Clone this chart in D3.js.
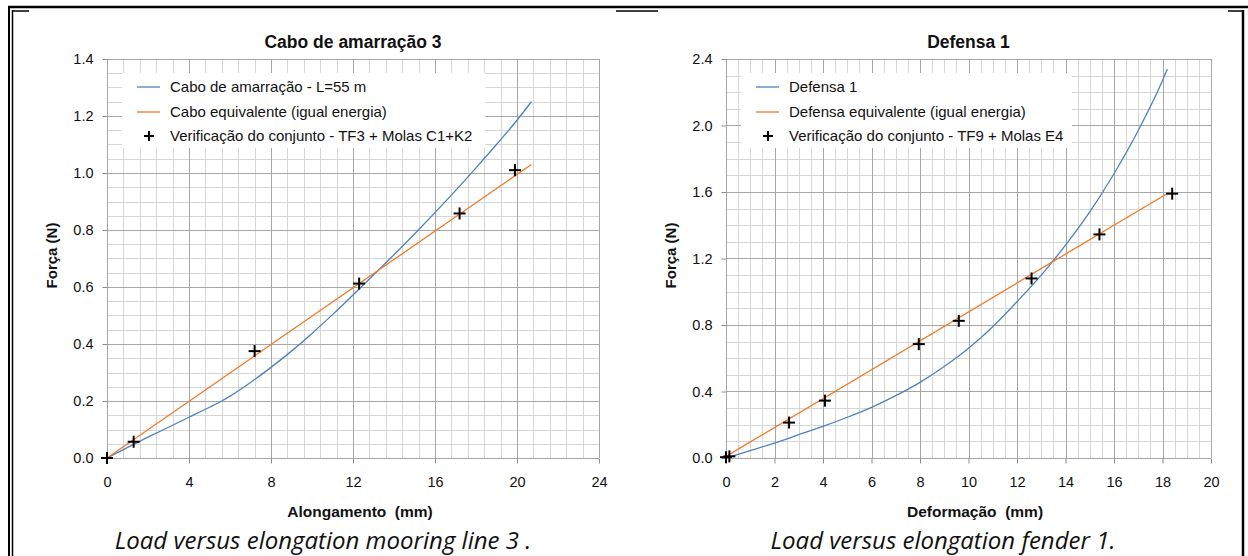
<!DOCTYPE html>
<html>
<head>
<meta charset="utf-8">
<script src="https://cdn.jsdelivr.net/npm/d3@7"></script>
<style>
  body { margin: 0; background: #fff; }
  svg { display: block; }
  text { font-family: "Liberation Sans", Arial, sans-serif; fill: #111; }
</style>
</head>
<body>
<script>
// ---- data ----
// Cabo de amarração 3
let caboX = [0, 1.3, 2, 3, 4, 5, 5.6, 6, 7, 8, 9, 10, 11, 12, 13, 14, 15, 16, 17, 18, 19, 20, 20.7];
let caboY = [0, 0.048, 0.073, 0.108, 0.143, 0.178, 0.2, 0.217, 0.265, 0.318, 0.375, 0.437, 0.503, 0.572, 0.642, 0.713, 0.786, 0.861, 0.938, 1.018, 1.1, 1.185, 1.25];
let caboEqX = [0, 20.7];
let caboEqY = [0, 1.03];
let caboVerX = [0, 1.3, 7.2, 12.3, 17.2, 19.9];
let caboVerY = [0, 0.057, 0.375, 0.612, 0.858, 1.01];

// Defensa 1
let defX = [0, 1, 2, 3, 4, 5, 6, 7, 8, 9, 10, 11, 12, 13, 14, 15, 16, 17, 18, 18.2];
let defY = [0, 0.045, 0.09, 0.14, 0.19, 0.245, 0.305, 0.375, 0.455, 0.55, 0.66, 0.79, 0.94, 1.1, 1.28, 1.48, 1.71, 1.97, 2.27, 2.34];
let defEqX = [0, 18.3];
let defEqY = [0.01, 1.6];
let defVerX = [0, 0.14, 2.6, 4.08, 7.95, 9.6, 12.6, 15.4, 18.4];
let defVerY = [0.005, 0.01, 0.213, 0.345, 0.685, 0.825, 1.08, 1.345, 1.59];

let caboLegend = ["Cabo de amarração - L=55 m", "Cabo equivalente (igual energia)", "Verificação do conjunto - TF3 + Molas C1+K2"];
let defLegend = ["Defensa 1", "Defensa equivalente (igual energia)", "Verificação do conjunto - TF9 + Molas E4"];

let blue = "#4f81bd";
let orange = "#f07a25";

let svgWidth = 1248;
let svgHeight = 556;

let svg = d3.select("body")
  .append("svg")
  .attr("width", svgWidth)
  .attr("height", svgHeight);

// table borders around the two figures
let frame = svg.append("g").attr("stroke", "#000").attr("fill", "none");
frame.append("line").attr("x1", 8).attr("x2", 1248).attr("y1", 7).attr("y2", 7).attr("stroke-width", 2.5);
frame.append("line").attr("x1", 9).attr("x2", 9).attr("y1", 6).attr("y2", 556).attr("stroke-width", 2);
frame.append("line").attr("x1", 12.5).attr("x2", 12.5).attr("y1", 10).attr("y2", 556).attr("stroke-width", 1.5);
frame.append("line").attr("x1", 12).attr("x2", 29).attr("y1", 11).attr("y2", 11).attr("stroke-width", 1.5);
frame.append("line").attr("x1", 616).attr("x2", 658).attr("y1", 11).attr("y2", 11).attr("stroke-width", 1.5);
frame.append("line").attr("x1", 1228).attr("x2", 1243).attr("y1", 11).attr("y2", 11).attr("stroke-width", 1.5);
frame.append("line").attr("x1", 1243).attr("x2", 1243).attr("y1", 10).attr("y2", 556).attr("stroke-width", 2.5);

function drawChart(cfg) {
  let x = d3.scaleLinear().domain([0, cfg.xMax]).range([cfg.left, cfg.right]);
  let y = d3.scaleLinear().domain([0, cfg.yMax]).range([cfg.bottom, cfg.top]);

  let g = svg.append("g");

  // minor grid
  let grid = g.append("g").attr("shape-rendering", "crispEdges");
  grid.selectAll(".vmin")
    .data(d3.range(0, cfg.xMax + 1e-9, cfg.xMinor))
    .enter().append("line")
    .attr("x1", d => Math.round(x(d)) + 0.5).attr("x2", d => Math.round(x(d)) + 0.5)
    .attr("y1", cfg.top).attr("y2", cfg.bottom)
    .attr("stroke", "#d6d6d6");
  grid.selectAll(".hmin")
    .data(d3.range(0, cfg.yMax + 1e-9, cfg.yMinor))
    .enter().append("line")
    .attr("y1", d => Math.round(y(d)) + 0.5).attr("y2", d => Math.round(y(d)) + 0.5)
    .attr("x1", cfg.left).attr("x2", cfg.right)
    .attr("stroke", "#d6d6d6");

  // major grid
  let xMajor = d3.range(0, cfg.xMax + 1e-9, cfg.xStep);
  let yMajor = d3.range(0, cfg.yMax + 1e-9, cfg.yStep);
  grid.selectAll(".vmaj")
    .data(xMajor)
    .enter().append("line")
    .attr("x1", d => Math.round(x(d)) + 0.5).attr("x2", d => Math.round(x(d)) + 0.5)
    .attr("y1", cfg.top).attr("y2", cfg.bottom)
    .attr("stroke", "#a6a6a6");
  grid.selectAll(".hmaj")
    .data(yMajor)
    .enter().append("line")
    .attr("y1", d => Math.round(y(d)) + 0.5).attr("y2", d => Math.round(y(d)) + 0.5)
    .attr("x1", cfg.left).attr("x2", cfg.right)
    .attr("stroke", "#a6a6a6");

  // axes (ticks and labels only)
  let xAxis = d3.axisBottom(x).tickValues(xMajor).tickFormat(d3.format("d")).tickSize(5).tickPadding(13);
  let yAxis = d3.axisLeft(y).tickValues(yMajor).tickFormat(d3.format(".1f")).tickSize(5).tickPadding(9);

  let gx = g.append("g")
    .attr("transform", `translate(0, ${Math.round(y(0)) + 0.5})`)
    .call(xAxis);
  let gy = g.append("g")
    .attr("transform", `translate(${Math.round(x(0)) + 0.5}, 0)`)
    .call(yAxis);
  [gx, gy].forEach(a => {
    a.select(".domain").remove();
    a.selectAll(".tick line").attr("stroke", "#8c8c8c");
    a.selectAll(".tick text").style("font-size", "14.5px").attr("fill", "#111");
  });

  // legend box (drawn over the grid, under the lines)
  let lg = g.append("g").attr("transform", `translate(${cfg.left + 15}, ${cfg.top + 14})`);
  lg.append("rect").attr("width", cfg.legendW).attr("height", 75).attr("fill", "#fff");

  let lineGen = d3.line().x(d => x(d[0])).y(d => y(d[1]));

  // series
  g.append("path")
    .attr("d", lineGen.curve(d3.curveMonotoneX)(d3.zip(cfg.curveX, cfg.curveY)))
    .attr("fill", "none").attr("stroke", blue).attr("stroke-width", 1.3);
  g.append("path")
    .attr("d", d3.line().x(d => x(d[0])).y(d => y(d[1]))(d3.zip(cfg.eqX, cfg.eqY)))
    .attr("fill", "none").attr("stroke", orange).attr("stroke-width", 1.3);

  let marks = g.selectAll(".ver")
    .data(d3.zip(cfg.verX, cfg.verY))
    .enter().append("g")
    .attr("transform", d => `translate(${x(d[0])}, ${y(d[1])})`);
  marks.append("line").attr("x1", -6).attr("x2", 6).attr("stroke", "#000").attr("stroke-width", 2);
  marks.append("line").attr("y1", -6).attr("y2", 6).attr("stroke", "#000").attr("stroke-width", 2);

  // legend entries
  let rows = [14, 39, 63];
  cfg.legend.forEach((label, i) => {
    let row = lg.append("g").attr("transform", `translate(0, ${rows[i]})`);
    if (i < 2) {
      row.append("line").attr("x1", 15).attr("x2", 38)
        .attr("stroke", i === 0 ? blue : orange).attr("stroke-width", 1.3);
    } else {
      row.append("line").attr("x1", 22).attr("x2", 32).attr("stroke", "#000").attr("stroke-width", 2);
      row.append("line").attr("x1", 27).attr("x2", 27).attr("y1", -5).attr("y2", 5).attr("stroke", "#000").attr("stroke-width", 2);
    }
    row.append("text").attr("x", 48).attr("dy", "0.35em")
      .style("font-size", "15px").text(label);
  });

  let cx = (cfg.left + cfg.right) / 2;
  // title
  svg.append("text").attr("x", cx).attr("y", 48)
    .attr("text-anchor", "middle").style("font-size", "17.5px").style("font-weight", "bold")
    .text(cfg.title);
  // axis titles
  svg.append("text").attr("x", cfg.xTitleX).attr("y", 517)
    .attr("text-anchor", "middle").style("font-size", "15.5px").style("font-weight", "bold")
    .attr("xml:space", "preserve")
    .text(cfg.xTitle);
  svg.append("text")
    .attr("transform", `translate(${cfg.left - 50}, ${(cfg.top + cfg.bottom) / 2 - 3}) rotate(-90)`)
    .attr("text-anchor", "middle").style("font-size", "15px").style("font-weight", "bold")
    .text("Força (N)");
  // caption
  svg.append("text").attr("x", cfg.capX).attr("y", 549)
    .attr("text-anchor", "middle")
    .style("font-family", "'Open Sans', 'Noto Sans', sans-serif")
    .style("font-style", "italic").style("font-size", "24px")
    .attr("xml:space", "preserve")
    .text(cfg.caption);
}

drawChart({
  left: 107, right: 599, top: 59, bottom: 458,
  xMax: 24, xStep: 4, xMinor: 0.8,
  yMax: 1.4, yStep: 0.2, yMinor: 0.05,
  curveX: caboX, curveY: caboY,
  eqX: caboEqX, eqY: caboEqY,
  verX: caboVerX, verY: caboVerY,
  legend: caboLegend, legendW: 363,
  title: "Cabo de amarração 3",
  xTitle: "Alongamento  (mm)",
  xTitleX: 360,
  caption: "Load versus elongation mooring line 3 .",
  capX: 323
});

drawChart({
  left: 726, right: 1211, top: 59, bottom: 458,
  xMax: 20, xStep: 2, xMinor: 0.5,
  yMax: 2.4, yStep: 0.4, yMinor: 0.1,
  curveX: defX, curveY: defY,
  eqX: defEqX, eqY: defEqY,
  verX: defVerX, verY: defVerY,
  legend: defLegend, legendW: 331,
  title: "Defensa 1",
  xTitle: "Deformação  (mm)",
  xTitleX: 975,
  caption: "Load versus elongation fender 1.",
  capX: 943
});
</script>
</body>
</html>
